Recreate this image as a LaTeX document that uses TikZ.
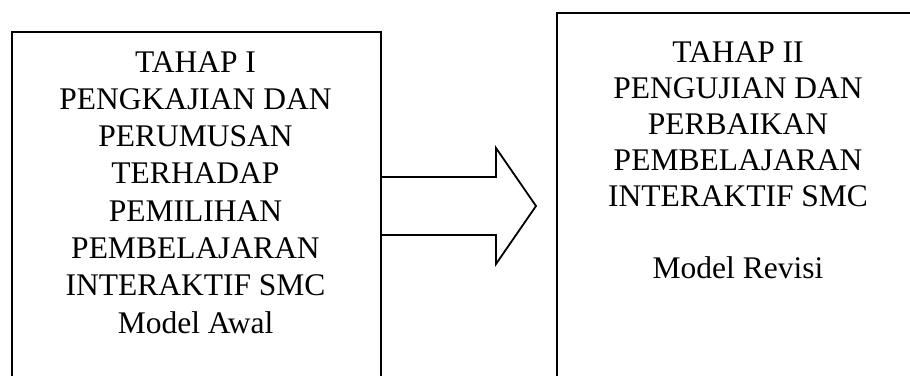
\documentclass[tikz,border=0pt]{standalone}
\usepackage{fontspec}
\setmainfont{Liberation Serif}
\begin{document}
\begin{tikzpicture}[x=1pt,y=-1pt,
  box/.style={draw, line width=1.8pt, anchor=north west, inner sep=0pt},
  lefttext/.style={anchor=base, inner sep=0pt, font=\fontsize{31.5}{37.3}\selectfont},
  righttext/.style={anchor=base, inner sep=0pt, font=\fontsize{31.5}{36}\selectfont},
  blockarrow/.style={draw, line width=1.8pt, line join=miter}]
\useasboundingbox (0,0) rectangle (910,375);
\clip (0,0) rectangle (910,375);
\node[box, minimum width=369pt, minimum height=400pt] (L) at (11,31) {};
\node[box, minimum width=400pt, minimum height=400pt] (R) at (556,12) {};
\node[lefttext] (LT) at (195.5,72) {\begin{tabular}[t]{@{}c@{}}TAHAP I\\ PENGKAJIAN DAN\\ PERUMUSAN\\ TERHADAP\\ PEMILIHAN\\ PEMBELAJARAN\\ INTERAKTIF SMC\\ Model Awal\end{tabular}};
\node[righttext] (RT) at (738,62) {\begin{tabular}[t]{@{}c@{}}TAHAP II\\ PENGUJIAN DAN\\ PERBAIKAN\\ PEMBELAJARAN\\ INTERAKTIF SMC\\ \\ Model Revisi\end{tabular}};
\coordinate (a1) at (L.north east |- 0,177);
\coordinate (a2) at (L.north east |- 0,235);
\coordinate (tip) at (R.north west |- 0,206);
\draw[blockarrow] (a1) -- (496,177) -- (496,148) -- ([xshift=-20pt]tip) -- (496,264) -- (496,235) -- (a2);
\end{tikzpicture}
\end{document}
